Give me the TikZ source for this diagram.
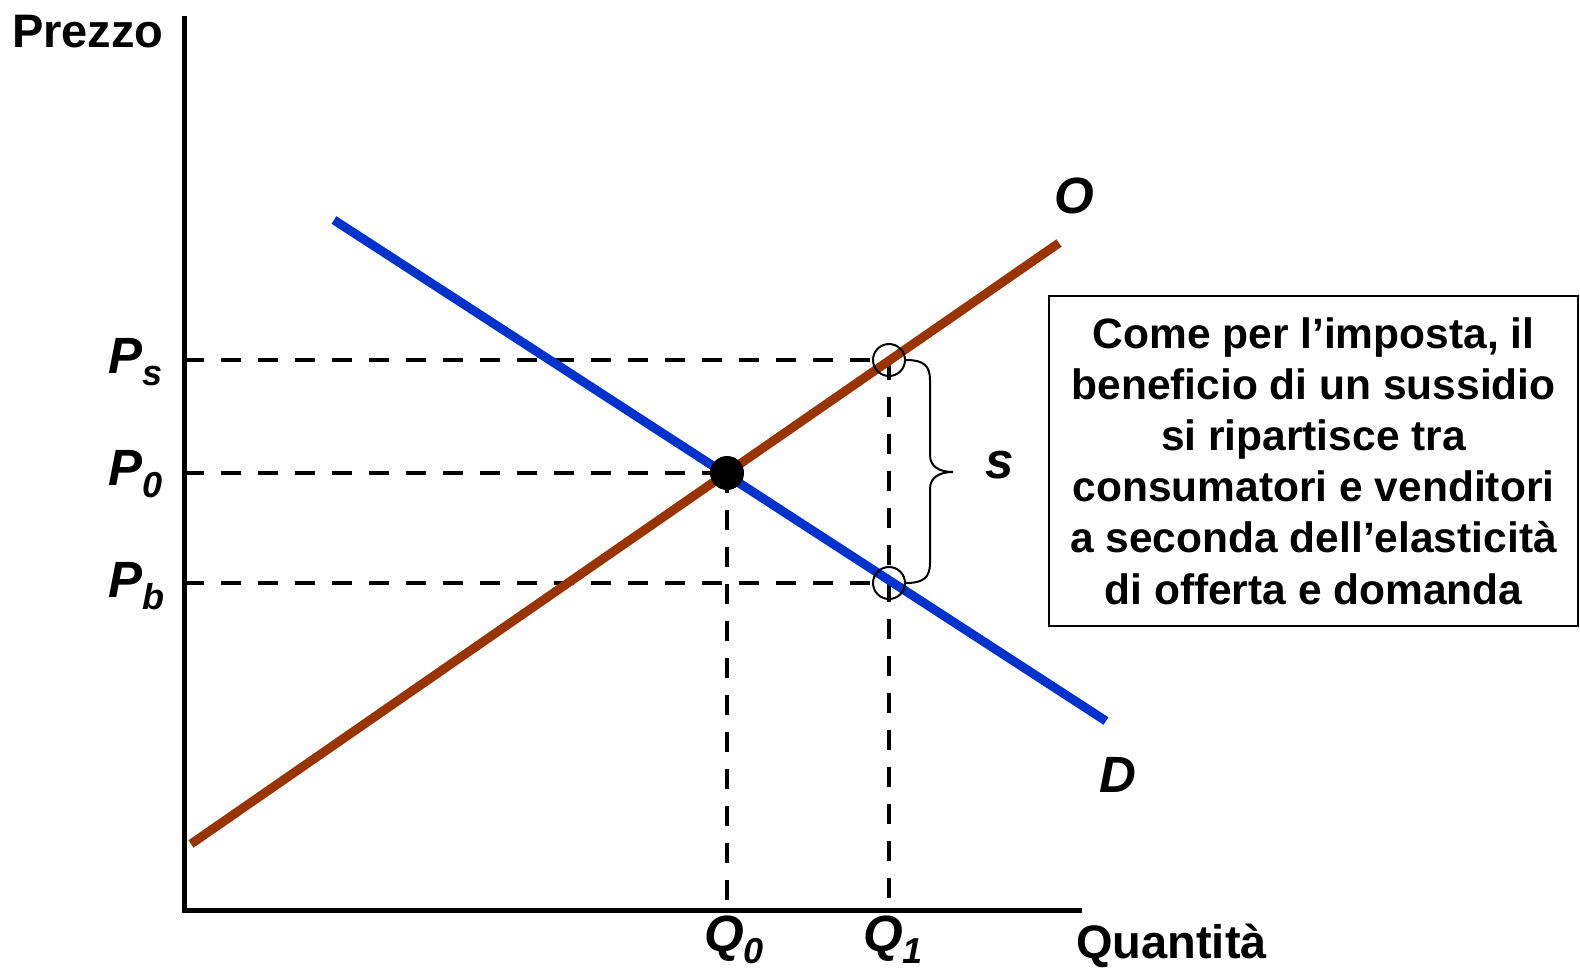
\documentclass[tikz,border=0pt]{standalone}
\usepackage{fontspec}
\setmainfont{Liberation Sans}
\definecolor{blu}{RGB}{0,51,204}
\definecolor{brn}{RGB}{153,51,0}
\newcommand\mylab[2]{#1\raisebox{-12pt}{\fontsize{36}{36}\selectfont #2}}
\begin{document}
\begin{tikzpicture}[x=1pt,y=-1pt,
  axisline/.style={line width=5pt},
  supply/.style={line width=9pt, draw=brn},
  demand/.style={line width=9pt, draw=blu},
  guide/.style={line width=4.5pt, dash pattern=on 20pt off 17pt},
  ring/.style={circle, draw, line width=2pt, minimum size=32pt, inner sep=0pt},
  bracepath/.style={line width=2pt},
  ilbl/.style={font=\fontsize{51}{51}\selectfont\bfseries\itshape, inner sep=0pt},
  albl/.style={font=\fontsize{47}{47}\selectfont\bfseries, inner sep=0pt, anchor=base west},
  note/.style={draw, line width=2.5pt, minimum width=529pt, minimum height=330pt, inner sep=0pt,
    align=center, font=\fontsize{42.5}{51.2}\selectfont\bfseries}
]
\useasboundingbox (0,0) rectangle (1580,972);
% axes
\coordinate (orig) at (184,910);
\coordinate (ytop) at (184,16);
\coordinate (xend) at (1082,910);
% key points
\coordinate (E) at (727,473);
\coordinate (A) at (889,360);
\coordinate (B) at (889,583);
\coordinate (S0) at (191,844);
\coordinate (S1) at (1059,243);
\coordinate (D0) at (334,220);
\coordinate (D1) at (1106,721);
% dashed guides
\draw[guide] (orig |- A) -- (A);
\draw[guide] (orig |- E) -- (E);
\draw[guide] (orig |- B) -- (B);
\draw[guide] (A) -- (A |- orig);
\draw[guide] (E) -- (E |- orig);
% curves
\draw[supply] (S0) -- (S1);
\draw[demand] (D0) -- (D1);
% axes on top
\draw[axisline] (ytop) -- (orig) -- (xend);
% markers
\node[ring] (ringA) at (A) {};
\node[ring] (ringB) at (B) {};
\node[circle, fill, minimum size=34pt, inner sep=0pt] (eq) at (E) {};
% brace
\draw[bracepath] (ringA.east) .. controls (924,360) and (930,366) .. (930,380) -- (930,455)
  .. controls (930,467) and (940,472) .. (953,472)
  .. controls (940,472) and (930,477) .. (930,489) -- (930,563)
  .. controls (930,577) and (924,583) .. (ringB.east);
% labels
\node[ilbl, anchor=base west] (lPs) at (108,373) {\mylab{P}{s}};
\node[ilbl, anchor=base west] (lP0) at (108,485) {\mylab{P}{0}};
\node[ilbl, anchor=base west] (lPb) at (108,597) {\mylab{P}{b}};
\node[ilbl, anchor=base west] (lQ0) at (704,951) {\mylab{Q}{0}};
\node[ilbl, anchor=base west] (lQ1) at (863,951) {\mylab{Q}{1}};
\node[ilbl, anchor=base] (lO) at (1074,213) {O};
\node[ilbl, anchor=base] (lD) at (1118,792) {D};
\node[ilbl, anchor=base] (ls) at (1000,478) {s};
\node[albl] (lprezzo) at (12,47) {Prezzo};
\node[albl] (lqty) at (1076,958) {Quantità};
% note box
\node[note] (box) at (1313.5,461) {Come per l’imposta, il\\beneficio di un sussidio\\si ripartisce tra\\consumatori e venditori\\a seconda dell’elasticità\\di offerta e domanda};
\end{tikzpicture}
\end{document}
